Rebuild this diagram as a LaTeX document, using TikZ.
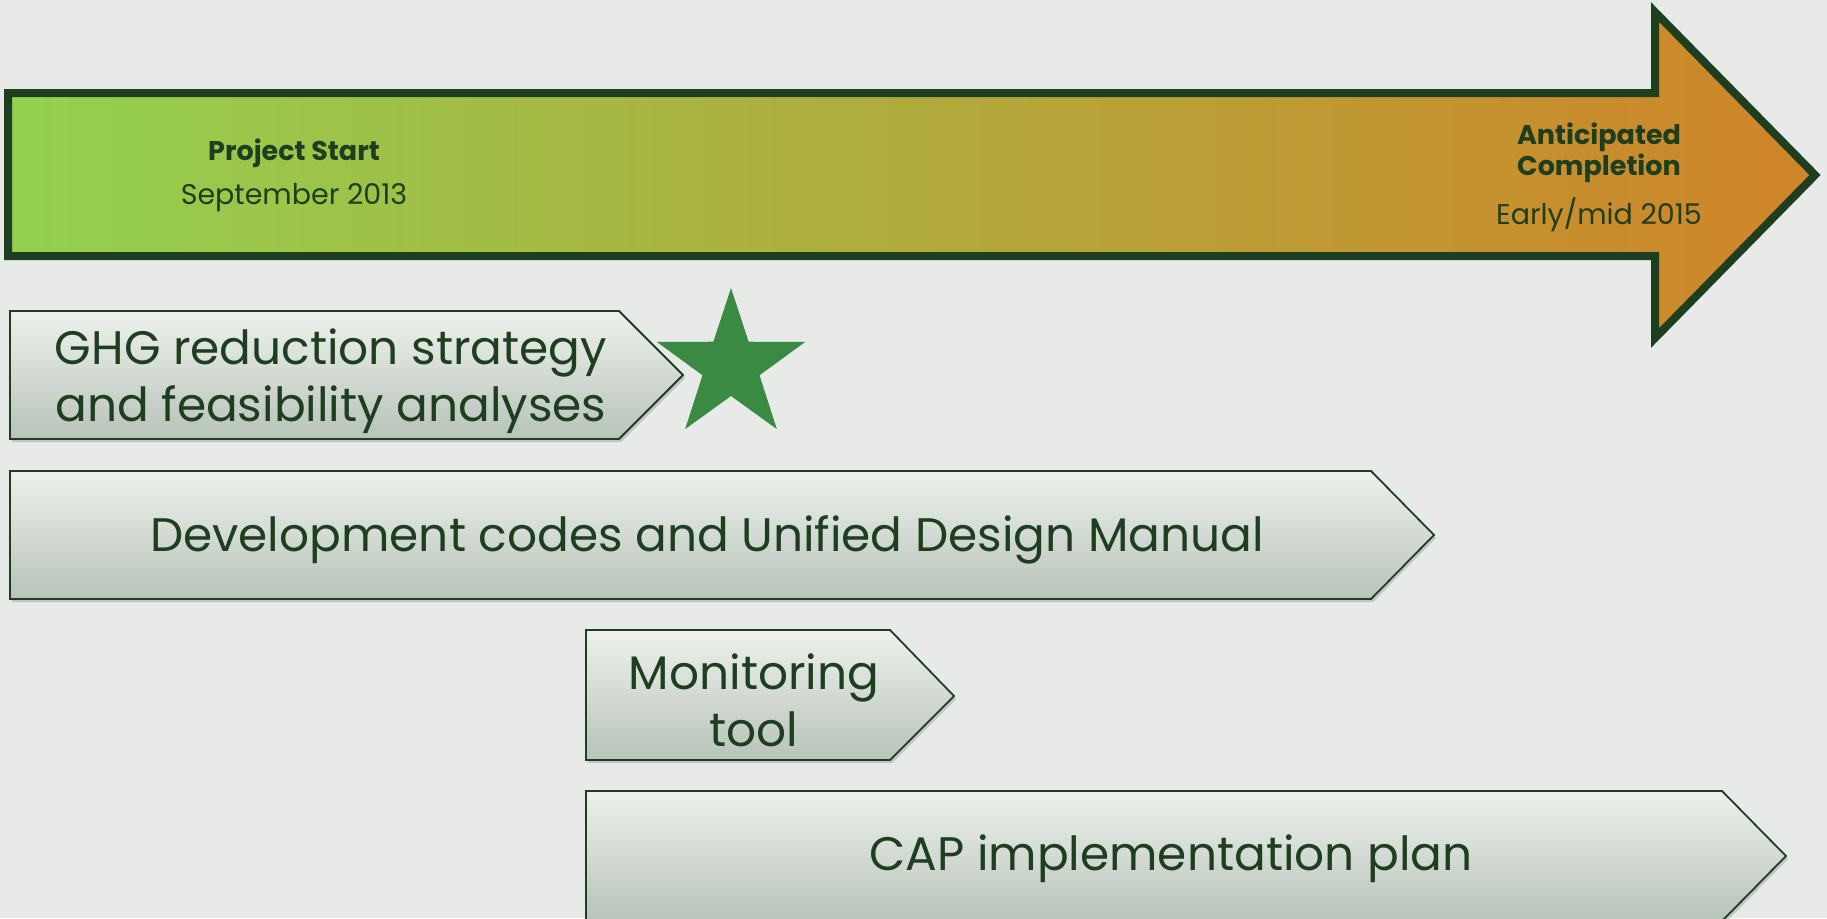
\documentclass[tikz,border=0pt]{standalone}
\usepackage{fontspec}
\setmainfont{Poppins}
\usetikzlibrary{shadows,calc}
\definecolor{bg}{RGB}{232,234,231}
\definecolor{dkgreen}{RGB}{30,62,32}
\definecolor{lgreen}{RGB}{146,209,80}
\definecolor{midol}{RGB}{178,180,64}
\definecolor{orng}{RGB}{208,132,40}
\definecolor{boxtop}{RGB}{238,241,237}
\definecolor{boxbot}{RGB}{184,195,185}
\definecolor{starg}{RGB}{58,138,68}
\tikzset{
  phasebox/.style={draw=dkgreen, line width=1.8pt, top color=boxtop, bottom color=boxbot, line join=miter,
    drop shadow={opacity=0.35, shadow xshift=2pt, shadow yshift=-3pt}},
  boxtext/.style={text=dkgreen, font=\fontsize{47}{57}\selectfont, align=center},
  headtext/.style={text=dkgreen, font=\fontsize{27}{31}\selectfont\bfseries, align=center},
  datetext/.style={text=dkgreen, font=\fontsize{28.5}{31}\selectfont, align=center}
}
\begin{document}
\begin{tikzpicture}[x=1pt,y=-1pt]
\useasboundingbox (0,0) rectangle (1827,918);
\fill[bg] (0,0) rectangle (1827,918);
% timeline arrow
\path[draw=dkgreen, line width=8pt, line join=miter, left color=lgreen, middle color=midol, right color=orng,
  drop shadow={opacity=0.3, shadow xshift=2pt, shadow yshift=-4pt}]
  (8,93) -- (1655,93) -- (1655,12) -- (1815,175) -- (1655,338) -- (1655,256) -- (8,256) -- cycle;
\node[headtext] (ps) at (294,153) {Project Start};
\node[datetext] (sd) at (294,198) {September 2013};
\node[headtext, text width=260pt] (ac) at (1599,153) {Anticipated\\Completion};
\node[datetext] (ed) at (1599,215) {Early/mid 2015};
% phase boxes
\path[phasebox] (10,311) -- (619,311) -- (683,375) -- (619,439) -- (10,439) -- cycle;
\node[boxtext] (ghg) at (331,381) {GHG reduction strategy\\and feasibility analyses};
\path[phasebox] (10,471) -- (1371,471) -- (1434,535) -- (1371,599) -- (10,599) -- cycle;
\node[boxtext] (dev) at (707,540) {Development codes and Unified Design Manual};
\path[phasebox] (586,630) -- (890,630) -- (954,696) -- (890,760) -- (586,760) -- cycle;
\node[boxtext] (mon) at (754,700) {Monitoring\\tool};
\path[phasebox] (586,791) -- (1722,791) -- (1786,856) -- (1722,921) -- (586,921) -- cycle;
\node[boxtext] (cap) at (1171,859) {CAP implementation plan};
% star
\coordinate (starc) at (731,366);
\fill[starg] ($(starc)+(-90:78)$)
  \foreach \i in {1,...,9} {
    -- ($(starc)+({-90-36*\i}:{ifthenelse(isodd(\i),30,78)})$)
  } -- cycle;
\end{tikzpicture}
\end{document}
